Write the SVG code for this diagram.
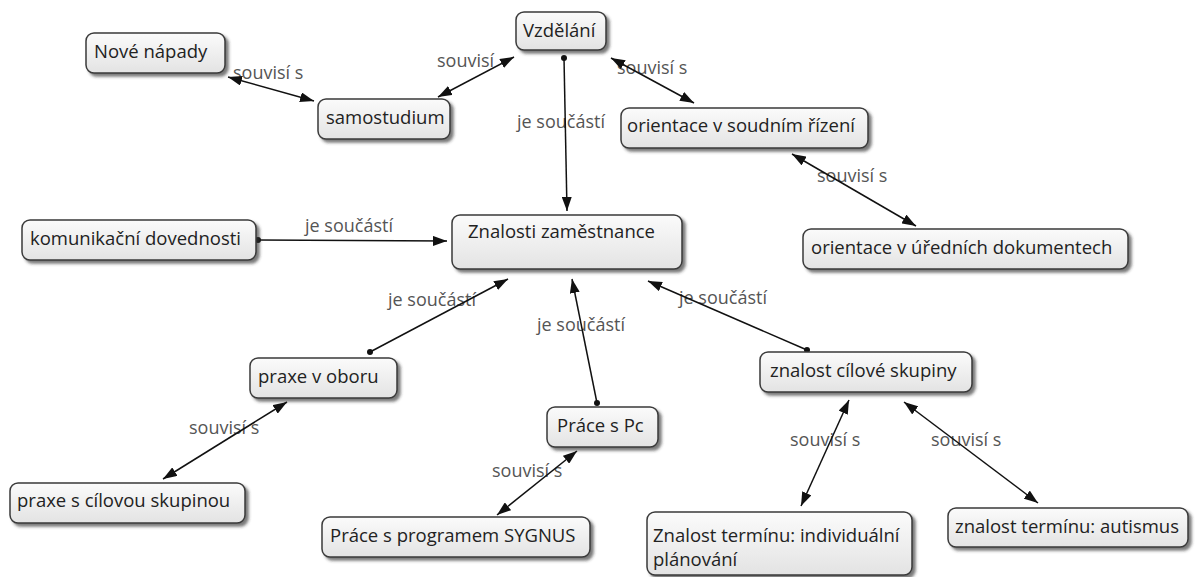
<svg xmlns="http://www.w3.org/2000/svg" width="1200" height="577" viewBox="0 0 1200 577">
  <defs>
    <linearGradient id="boxFill" x1="0" y1="0" x2="0" y2="1">
      <stop offset="0" stop-color="#fbfbfb"/>
      <stop offset="1" stop-color="#e3e3e3"/>
    </linearGradient>
    <filter id="shadow" x="-10%" y="-20%" width="125%" height="160%">
      <feDropShadow dx="3" dy="3" stdDeviation="1.8" flood-color="#333" flood-opacity="0.65"/>
    </filter>
    <marker id="arrow" viewBox="0 0 14 10" refX="14" refY="5" markerWidth="14" markerHeight="10" markerUnits="userSpaceOnUse" orient="auto-start-reverse">
      <path d="M0,0 L14,5 L0,10 z" fill="#111"/>
    </marker>
    <marker id="dot" viewBox="0 0 6 6" refX="3" refY="3" markerWidth="6" markerHeight="6" markerUnits="userSpaceOnUse">
      <circle cx="3" cy="3" r="3" fill="#111"/>
    </marker>
  </defs>
  <style>
    .node rect { fill: url(#boxFill); stroke: #3a3a3a; stroke-width: 1.5; filter: url(#shadow); }
    .node text { font-family: "Open Sans", "Liberation Sans", sans-serif; font-size: 18.5px; fill: #222; }
    .label { font-family: "Open Sans", "Liberation Sans", sans-serif; font-size: 18px; fill: #555; }
    .link { stroke: #111; stroke-width: 1.5; fill: none; }
    .both { marker-start: url(#arrow); marker-end: url(#arrow); }
    .part { marker-start: url(#dot); marker-end: url(#arrow); }
  </style>

  <rect width="1200" height="577" fill="#ffffff"/>

  <!-- link labels sit under the lines -->
  <g id="labels">
    <text class="label" x="233" y="79">souvisí s</text>
    <text class="label" x="437" y="67">souvisí</text>
    <text class="label" x="617" y="74">souvisí s</text>
    <text class="label" x="517" y="128">je součástí</text>
    <text class="label" x="305" y="232">je součástí</text>
    <text class="label" x="817" y="182">souvisí s</text>
    <text class="label" x="388" y="306">je součástí</text>
    <text class="label" x="537" y="331">je součástí</text>
    <text class="label" x="679" y="304">je součástí</text>
    <text class="label" x="189" y="434">souvisí s</text>
    <text class="label" x="492" y="477">souvisí s</text>
    <text class="label" x="790" y="446">souvisí s</text>
    <text class="label" x="931" y="446">souvisí s</text>
  </g>

  <g id="connectors">
    <line class="link both" x1="228" y1="77" x2="314" y2="101"/>
    <line class="link both" x1="438" y1="97" x2="514" y2="57"/>
    <line class="link both" x1="611" y1="58" x2="694" y2="103"/>
    <line class="link part" x1="564" y1="58" x2="567" y2="211"/>
    <line class="link part" x1="258" y1="240" x2="447" y2="241"/>
    <line class="link both" x1="792" y1="154" x2="916" y2="226"/>
    <line class="link part" x1="370" y1="352" x2="508" y2="279"/>
    <line class="link part" x1="597" y1="403" x2="572" y2="279"/>
    <line class="link part" x1="807" y1="350" x2="648" y2="281"/>
    <line class="link both" x1="287" y1="402" x2="163" y2="479"/>
    <line class="link both" x1="577" y1="451" x2="497" y2="515"/>
    <line class="link both" x1="849" y1="400" x2="801" y2="506"/>
    <line class="link both" x1="904" y1="402" x2="1038" y2="503"/>
  </g>

  <g id="nove-napady" class="node">
    <rect x="86" y="33" width="139" height="40" rx="8"/>
    <text x="94" y="58">Nové nápady</text>
  </g>
  <g id="vzdelani" class="node">
    <rect x="516" y="12" width="90" height="38" rx="8"/>
    <text x="523" y="37">Vzdělání</text>
  </g>
  <g id="samostudium" class="node">
    <rect x="318" y="99" width="132" height="40" rx="8"/>
    <text x="326" y="124">samostudium</text>
  </g>
  <g id="soudni-rizeni" class="node">
    <rect x="621" y="108" width="247" height="40" rx="8"/>
    <text x="627" y="132">orientace v soudním řízení</text>
  </g>
  <g id="komunikacni" class="node">
    <rect x="22" y="220" width="234" height="40" rx="8"/>
    <text x="30" y="245">komunikační dovednosti</text>
  </g>
  <g id="znalosti" class="node">
    <rect x="452" y="215" width="230" height="54" rx="8"/>
    <text x="468" y="238">Znalosti zaměstnance</text>
  </g>
  <g id="uredni-dokumenty" class="node">
    <rect x="803" y="229" width="325" height="40" rx="8"/>
    <text x="811" y="254">orientace v úředních dokumentech</text>
  </g>
  <g id="praxe-obor" class="node">
    <rect x="250" y="358" width="147" height="40" rx="8"/>
    <text x="258" y="383">praxe v oboru</text>
  </g>
  <g id="cilova-skupina" class="node">
    <rect x="760" y="352" width="212" height="40" rx="8"/>
    <text x="770" y="377">znalost cílové skupiny</text>
  </g>
  <g id="prace-pc" class="node">
    <rect x="547" y="407" width="111" height="40" rx="8"/>
    <text x="557" y="432">Práce s Pc</text>
  </g>
  <g id="praxe-cilova" class="node">
    <rect x="10" y="483" width="235" height="40" rx="8"/>
    <text x="17" y="507">praxe s cílovou skupinou</text>
  </g>
  <g id="sygnus" class="node">
    <rect x="322" y="517" width="268" height="40" rx="8"/>
    <text x="330" y="542">Práce s programem SYGNUS</text>
  </g>
  <g id="individualni" class="node">
    <rect x="647" y="512" width="265" height="63" rx="8"/>
    <text x="653" y="542">Znalost termínu: individuální</text>
    <text x="653" y="566">plánování</text>
  </g>
  <g id="autismus" class="node">
    <rect x="948" y="508" width="240" height="39" rx="8"/>
    <text x="955" y="533">znalost termínu: autismus</text>
  </g>
</svg>
